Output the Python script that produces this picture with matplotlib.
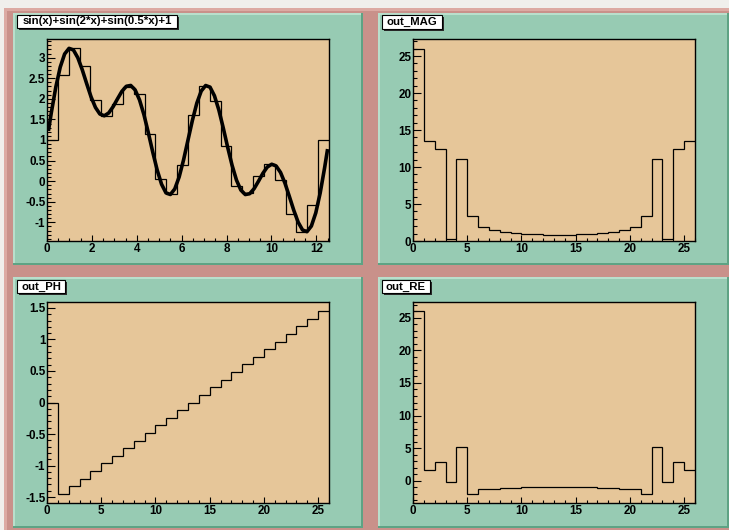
#!/usr/bin/env python3
"""Four pad FFT canvas: input function + histogram, magnitude, phase, real part."""

import numpy as np
import matplotlib
matplotlib.use("Agg")
import matplotlib.pyplot as plt
from matplotlib.patches import Rectangle
from matplotlib.ticker import MultipleLocator, FuncFormatter

W, H = 729, 530

# input histogram, 26 bins over [0, 4*pi]
X_MAX = 12.566
hist_vals = [1.000, 2.575, 3.231, 2.808, 1.979, 1.588, 1.875, 2.299, 2.117,
             1.156, 0.049, -0.314, 0.395, 1.605, 2.314, 1.951, 0.844, -0.117,
             -0.299, 0.125, 0.412, 0.021, -0.808, -1.231, -0.575, 1.000]

# smooth function curve
curve_x = [0.063, 0.196, 0.393, 0.589, 0.785, 0.982, 1.178, 1.374, 1.571,
           1.767, 1.963, 2.160, 2.356, 2.553, 2.749, 2.945, 3.142, 3.338,
           3.534, 3.731, 3.927, 4.123, 4.320, 4.516, 4.712, 4.909, 5.105,
           5.301, 5.498, 5.694, 5.890, 6.087, 6.283, 6.480, 6.676, 6.872,
           7.069, 7.265, 7.461, 7.658, 7.854, 8.050, 8.247, 8.443, 8.639,
           8.836, 9.032, 9.228, 9.425, 9.621, 9.817, 10.014, 10.210, 10.407,
           10.603, 10.799, 10.996, 11.192, 11.388, 11.585, 11.781, 11.977,
           12.174, 12.370, 12.503]
curve_y = [1.220, 1.676, 2.285, 2.770, 3.090, 3.227, 3.187, 2.998, 2.707,
           2.371, 2.048, 1.790, 1.631, 1.589, 1.656, 1.808, 2.000, 2.183,
           2.305, 2.325, 2.217, 1.974, 1.615, 1.175, 0.707, 0.271, -0.075,
           -0.284, -0.324, -0.189, 0.105, 0.520, 1.000, 1.480, 1.895, 2.189,
           2.324, 2.284, 2.075, 1.729, 1.293, 0.825, 0.385, 0.026, -0.217,
           -0.325, -0.305, -0.183, 0.000, 0.192, 0.344, 0.411, 0.369, 0.211,
           -0.048, -0.371, -0.707, -0.998, -1.187, -1.227, -1.090, -0.770,
           -0.285, 0.324, 0.780]

# FFT outputs, 26 bins over [0, 26]
out_mag = [26.0, 13.49, 12.41, 0.27, 11.10, 3.34, 1.90, 1.44, 1.17, 1.04,
           0.95, 0.90, 0.86, 0.85, 0.86, 0.90, 0.95, 1.04, 1.17, 1.44, 1.90,
           3.34, 11.10, 0.27, 12.41, 13.49]
out_ph = [0.0, -1.450, -1.329, -1.208, -1.088, -0.967, -0.846, -0.725,
          -0.604, -0.483, -0.363, -0.242, -0.121, 0.0, 0.121, 0.242, 0.363,
          0.483, 0.604, 0.725, 0.846, 0.967, 1.088, 1.208, 1.329, 1.450]
out_re = [26.0, 1.63, 2.95, -0.10, 5.14, -1.99, -1.32, -1.17, -1.07, -1.02,
          -0.98, -0.96, -0.95, -0.95, -0.95, -0.96, -0.98, -1.02, -1.07,
          -1.17, -1.32, -1.99, 5.14, -0.10, 2.95, 1.63]

BG = "#f0efec"
PINK = "#c9918a"
PINK_LIGHT = "#dcaaa3"
GREEN = "#97cbb3"
GREEN_LIGHT = "#b9dfcc"
GREEN_DARK = "#5ea384"
TAN = "#e6c699"

plt.rcParams["font.family"] = ["Liberation Sans", "DejaVu Sans"]
plt.rcParams["font.weight"] = "bold"


def frac(x0, y0, x1, y1):
  """Pixel box (top-left origin) -> figure fraction [l, b, w, h]."""
  return [x0 / W, 1 - y1 / H, (x1 - x0) / W, (y1 - y0) / H]


def add_rect(fig, box, zorder=-10, **kw):
  l, b, w, h = frac(*box)
  fig.patches.append(Rectangle((l, b), w, h, transform=fig.transFigure,
                               zorder=zorder, **kw))


def draw_pad(fig, box, bevel=2):
  x0, y0, x1, y1 = box
  add_rect(fig, box, facecolor=GREEN, edgecolor="none")
  add_rect(fig, (x0, y0, x1, y0 + bevel), facecolor=GREEN_LIGHT, edgecolor="none")
  add_rect(fig, (x0, y0, x0 + bevel, y1), facecolor=GREEN_LIGHT, edgecolor="none")
  add_rect(fig, (x0, y1 - bevel, x1, y1), facecolor=GREEN_DARK, edgecolor="none")
  add_rect(fig, (x1 - bevel, y0, x1, y1), facecolor=GREEN_DARK, edgecolor="none")


def draw_title(fig, box, text):
  x0, y0, x1, y1 = box
  add_rect(fig, (x0 + 2, y0 + 2, x1 + 2, y1 + 2), zorder=5,
           facecolor="#2a2a2a", edgecolor="none")
  add_rect(fig, box, zorder=6, facecolor="white", edgecolor="black",
           linewidth=0.8)
  fig.text((x0 + x1) / 2 / W, 1 - (y0 + y1) / 2 / H, text, ha="center",
           va="center", fontsize=8.2, fontweight="bold", zorder=7)


def make_axes(fig, box, xlim, ylim, xmaj, xmin, ymaj, ymin):
  ax = fig.add_axes(frac(*box))
  ax.set_facecolor(TAN)
  ax.set_xlim(*xlim)
  ax.set_ylim(*ylim)
  ax.xaxis.set_major_locator(MultipleLocator(xmaj))
  ax.xaxis.set_minor_locator(MultipleLocator(xmin))
  ax.yaxis.set_major_locator(MultipleLocator(ymaj))
  ax.yaxis.set_minor_locator(MultipleLocator(ymin))
  fmt = FuncFormatter(lambda v, p: "%g" % round(v, 6))
  ax.xaxis.set_major_formatter(fmt)
  ax.yaxis.set_major_formatter(fmt)
  ax.tick_params(axis="both", which="both", direction="in", top=False,
                 right=False, labelsize=8.4, colors="black", width=0.8)
  ax.tick_params(axis="x", which="major", length=4.4, pad=1.5)
  ax.tick_params(axis="x", which="minor", length=2.2)
  ax.tick_params(axis="y", which="major", length=6.0, pad=1.2)
  ax.tick_params(axis="y", which="minor", length=3.0)
  for lab in ax.get_xticklabels() + ax.get_yticklabels():
    lab.set_fontweight("bold")
  for sp in ax.spines.values():
    sp.set_linewidth(1.0)
    sp.set_color("black")
  return ax


def main():
  fig = plt.figure(figsize=(W / 100, H / 100), dpi=100, facecolor=BG)

  # canvas with a light bevel on top / left
  add_rect(fig, (4, 8, W, H), zorder=-20, facecolor=PINK, edgecolor="none")
  add_rect(fig, (4, 8, W, 11), zorder=-20, facecolor=PINK_LIGHT, edgecolor="none")
  add_rect(fig, (4, 8, 7, H), zorder=-20, facecolor=PINK_LIGHT, edgecolor="none")

  pads = [(13, 13, 363, 265), (378, 13, W, 265),
          (13, 277, 363, 528), (378, 277, W, 528)]
  for p in pads:
    draw_pad(fig, p)

  edges26 = np.arange(27)

  # top left: function and its histogram
  ax = make_axes(fig, (47, 39, 329, 241), (0, X_MAX), (-1.454, 3.454),
                 2, 0.5, 0.5, 0.1)
  ax.stairs(hist_vals, np.linspace(0, X_MAX, len(hist_vals) + 1),
            baseline=None, color="black", linewidth=0.9)
  ax.plot(curve_x, curve_y, color="black", linewidth=2.6,
          solid_joinstyle="round", solid_capstyle="butt")

  ax = make_axes(fig, (413, 39, 695, 241), (0, 26), (0, 27.3), 5, 1, 5, 1)
  ax.stairs(out_mag, edges26, baseline=None, color="black", linewidth=0.9)

  ax = make_axes(fig, (47, 302, 329, 503), (0, 26), (-1.595, 1.595),
                 5, 1, 0.5, 0.1)
  ax.stairs(out_ph, edges26, baseline=None, color="black", linewidth=0.9)

  ax = make_axes(fig, (413, 302, 695, 503), (0, 26), (-3.39, 27.4), 5, 1, 5, 1)
  ax.stairs(out_re, edges26, baseline=None, color="black", linewidth=0.9)

  draw_title(fig, (17, 15, 177, 28), "sin(x)+sin(2*x)+sin(0.5*x)+1")
  draw_title(fig, (382, 15, 442, 29), "out_MAG")
  draw_title(fig, (17, 280, 65, 293), "out_PH")
  draw_title(fig, (382, 280, 430, 293), "out_RE")

  fig.savefig("out.png", dpi=100, facecolor=BG)


if __name__ == "__main__":
  main()
